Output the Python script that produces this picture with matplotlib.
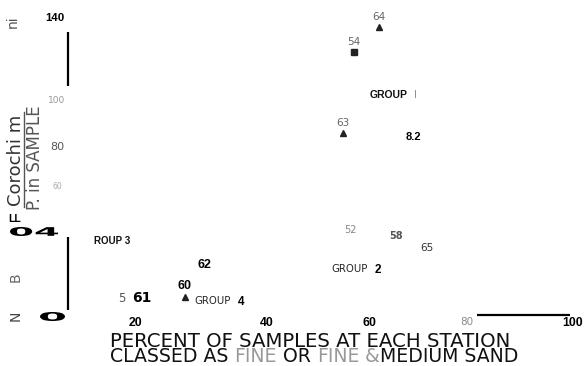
import matplotlib
matplotlib.use("Agg")
import matplotlib.pyplot as plt
from matplotlib.textpath import TextPath
from matplotlib.patches import PathPatch
from matplotlib.font_manager import FontProperties
from matplotlib.transforms import Affine2D

# ---------------- data ----------------
marker_labels = ["64", "54", "63", "60"]
marker_x = [64.6, 60.0, 58.0, 29.1]
marker_y = [135.7, 123.9, 85.9, 8.9]
marker_shape = ["^", "s", "^", "^"]

station_labels = ["52", "58", "65", "62", "8.2", "5", "61"]
station_x = [59.3, 67.7, 73.3, 32.6, 70.8, 17.6, 21.3]
station_y = [40.4, 37.6, 31.9, 23.9, 84.0, 8.0, 8.5]

group_words = ["GROUP", "GROUP", "ROUP 3", "GROUP"]
group_x = [66.4, 59.1, 15.8, 34.2]
group_y = [103.8, 22.1, 35.2, 7.0]
group_nums = ["I", "2", "", "4"]
group_num_x = [71.3, 64.4, 0, 39.4]

xtick_labels = ["20", "40", "60", "80", "100"]
xtick_pos = [20.0, 44.1, 62.9, 80.6, 100.0]
ytick_labels = ["140", "100", "80", "60"]
ytick_pos = [139.9, 101.4, 79.3, 60.6]

axis_seg_x = [7.76, 7.76]
axis_seg_y0 = [108.0, 2.8]
axis_seg_y1 = [133.3, 37.1]
xaxis_seg_x0, xaxis_seg_x1, xaxis_seg_y = 82.5, 99.4, 0.47

W, H = 584, 366
XMIN, XMAX = -25.5 / 5.475, (W - 25.5) / 5.475
YMIN, YMAX = (316 - H) / 2.13, 316 / 2.13

fig = plt.figure(figsize=(W / 100, H / 100), dpi=100)
ax = fig.add_axes([0, 0, 1, 1])
ax.set_xlim(XMIN, XMAX)
ax.set_ylim(YMIN, YMAX)
ax.axis("off")

ARIAL = "Liberation Sans"
DV = "DejaVu Sans"

# markers with labels
for lab, x, y, m in zip(marker_labels, marker_x, marker_y, marker_shape):
    ax.plot([x], [y], marker=m, color="#222222", markersize=5 if m == "^" else 4.5,
            linestyle="none")
    if lab == "60":
        ax.annotate(lab, (x, y), xytext=(0, 8), textcoords="offset points",
                    ha="center", va="center", fontsize=9, fontweight="bold",
                    family=ARIAL, color="black")
    else:
        ax.annotate(lab, (x, y), xytext=(0, 7.5), textcoords="offset points",
                    ha="center", va="center", fontsize=7.5, family=DV, color="#666666")

# station labels
st_style = {
    "52": dict(fontsize=7, family=DV, color="#888888"),
    "58": dict(fontsize=7, family=DV, color="#555555", fontweight="bold"),
    "65": dict(fontsize=7.5, family=DV, color="#333333"),
    "62": dict(fontsize=9, family=ARIAL, color="black", fontweight="bold"),
    "8.2": dict(fontsize=8, family=ARIAL, color="black", fontweight="bold"),
    "5": dict(fontsize=8.5, family=DV, color="#555555"),
    "61": dict(fontsize=10, family=DV, color="black", fontweight="heavy"),
}
for lab, x, y in zip(station_labels, station_x, station_y):
    ax.text(x, y, lab, ha="center", va="center", **st_style[lab])

# group labels
for i, (w, x, y, n, nx) in enumerate(zip(group_words, group_x, group_y, group_nums, group_num_x)):
    if i in (0, 2):
        ax.text(x, y, w, ha="center", va="center", fontsize=7.5 if i == 0 else 7,
                family=ARIAL, fontweight="bold", color="#111111")
    else:
        ax.text(x, y, w, ha="center", va="center", fontsize=7.3, family=DV, color="#222222")
    if n:
        if n == "I":
            ax.text(nx, y, n, ha="center", va="center", fontsize=7, family=DV, color="#888888")
        else:
            ax.text(nx, y - 0.3, n, ha="center", va="center", fontsize=8.5, family=ARIAL,
                    fontweight="bold", color="black")

# axis fragments
ax.vlines(axis_seg_x, axis_seg_y0, axis_seg_y1, color="black", lw=1.6)
ax.hlines([xaxis_seg_y], [xaxis_seg_x0], [xaxis_seg_x1], color="black", lw=1.6)

# x tick labels
for lab, p in zip(xtick_labels, xtick_pos):
    if lab == "80":
        ax.text(p, -2.6, lab, ha="center", va="center", fontsize=7.5, family=DV, color="#888888")
    else:
        ax.text(p, -3.3, lab, ha="center", va="center", fontsize=8.8, family=ARIAL,
                fontweight="bold", color="black")

# y tick labels
yst = {
    "140": dict(x=5.39, fontsize=8.2, family=ARIAL, fontweight="bold", color="black"),
    "100": dict(x=5.75, fontsize=6.5, family=DV, color="#999999"),
    "80": dict(x=5.75, fontsize=8, family=DV, color="#555555"),
    "60": dict(x=5.75, fontsize=5.5, family=DV, color="#aaaaaa"),
}
for lab, p in zip(ytick_labels, ytick_pos):
    s = dict(yst[lab])
    xx = s.pop("x")
    ax.text(xx, p, lab, ha="center", va="center", **s)


def fpos(xp, yp):
    return xp / W, 1 - yp / H


def squashed(text, x0, x1, y0, y1, weight="heavy"):
    """text fitted into pixel box (top-left origin)"""
    tp = TextPath((0, 0), text, size=20, prop=FontProperties(family=DV, weight=weight))
    ext = tp.get_extents()
    sx = (x1 - x0) / ext.width
    sy = (y1 - y0) / ext.height
    tr = Affine2D().translate(-ext.x0, -ext.y0).scale(sx, sy).translate(x0, H - y1)
    patch = PathPatch(tp, transform=tr, color="black", lw=0)
    fig.add_artist(patch)


squashed("04", 10, 58, 227, 236)
squashed("0", 40, 65, 312, 321)

# rotated axis-label fragments
fig.text(*fpos(16, 160), "Corochi m", rotation=90, ha="center", va="center",
         fontsize=13, family=DV, color="#333333")
fig.add_artist(plt.Line2D([24 / W, 24 / W], [1 - 207 / H, 1 - 112 / H], color="#555555", lw=1))
fig.text(*fpos(35, 158), "P. in SAMPLE", rotation=90, ha="center", va="center",
         fontsize=12, family=DV, color="#555555")
fig.text(*fpos(13, 22), "ni", rotation=90, ha="center", va="center",
         fontsize=10, family=DV, color="#555555")
fig.text(*fpos(15, 219), "LL", ha="center", va="center",
         fontsize=7.5, family=ARIAL, fontweight="bold", color="black")
fig.text(*fpos(16, 277), "B", rotation=90, ha="center", va="center",
         fontsize=10, family=DV, color="#666666")
fig.text(*fpos(16, 316), "N", rotation=90, ha="center", va="center",
         fontsize=10, family=DV, color="#444444")

# bottom title
fig.text(*fpos(110, 347), "PERCENT OF SAMPLES AT EACH STATION", ha="left", va="baseline",
         fontsize=14.2, family=DV, color="#111111")

pieces = [("CLASSED AS ", "#111111"), ("FINE", "#999999"), (" OR ", "#111111"),
          ("FINE", "#999999"), (" ", "#111111"), ("&", "#999999"), ("MEDIUM SAND", "#111111")]
renderer = fig.canvas.get_renderer()
xcur = 110
for txt, col in pieces:
    t = fig.text(*fpos(xcur, 362.5), txt, ha="left", va="baseline", fontsize=13.6,
                 family=DV, color=col)
    bb = t.get_window_extent(renderer)
    xcur = bb.x1

fig.savefig("out.png", dpi=100)
